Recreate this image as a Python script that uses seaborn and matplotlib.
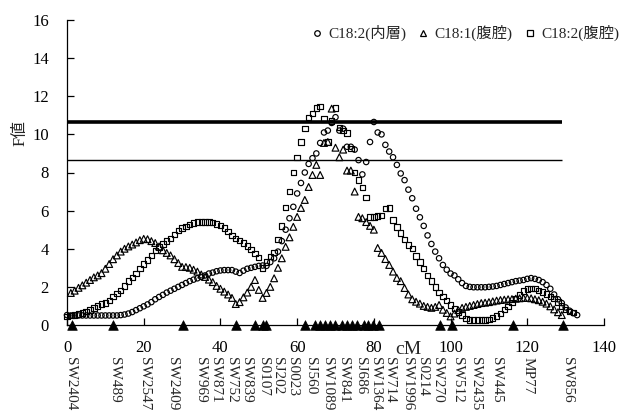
import numpy as np
import pandas as pd
import matplotlib
matplotlib.use("Agg")
import matplotlib.pyplot as plt
import matplotlib.transforms as mtransforms
from matplotlib.lines import Line2D
import seaborn as sns

nan = np.nan

# Scan positions along the chromosome (cM)
pos_cm = list(range(0, 134))

# F statistics for each trait at every scan position
f_c182_inner = [
    0.52, 0.5, 0.5, 0.5, 0.5, 0.5, 0.5, 0.5, 0.5, 0.5,
    0.5, 0.5, 0.5, 0.5, 0.52, 0.55, 0.6, 0.68, 0.78, 0.88,
    0.98, 1.08, 1.2, 1.35, 1.47, 1.58, 1.7, 1.8, 1.9, 2.0,
    2.1, 2.2, 2.3, 2.38, 2.45, 2.52, 2.6, 2.7, 2.75, 2.82,
    2.86, 2.88, 2.88, 2.88, 2.8, 2.73, 2.85, 2.95, 3.0, 3.05,
    3.1, 3.12, 3.1, 3.3, 3.5, 3.85, 4.4, 5.0, 5.6, 6.2,
    6.9, 7.45, 8.0, 8.45, 8.75, 9.0, 9.55, 10.1, 10.2, 10.6,
    10.9, 10.2, 10.3, 9.35, 9.35, 9.2, 8.65, 7.9, 8.55, 9.6,
    10.65, 10.1, 10.0, 9.45, 9.1, 8.8, 8.4, 7.95, 7.6, 7.1,
    6.65, 6.1, 5.65, 5.2, 4.7, 4.25, 3.85, 3.5, 3.15, 2.9,
    2.7, 2.6, 2.4, 2.2, 2.05, 2.0, 1.98, 1.98, 1.98, 1.98,
    2.0, 2.02, 2.05, 2.1, 2.15, 2.2, 2.25, 2.3, 2.33, 2.36,
    2.42, 2.46, 2.42, 2.36, 2.25, 2.1, 1.9, 1.6, 1.35, 1.15,
    0.92, 0.75, 0.62, 0.52,
]
f_c181_cavity = [
    nan, 1.68, 1.8, 1.95, 2.08, 2.22, 2.36, 2.5, 2.6, 2.72,
    2.95, 3.2, 3.45, 3.65, 3.85, 4.0, 4.12, 4.22, 4.33, 4.45,
    4.52, 4.5, 4.4, 4.3, 4.12, 3.92, 3.78, 3.65, 3.45, 3.25,
    3.05, 3.04, 3.0, 2.9, 2.8, 2.65, 2.52, 2.38, 2.25, 2.05,
    1.9, 1.75, 1.6, 1.42, 1.1, 1.2, 1.45, 1.7, 2.0, 2.36,
    1.84, 1.42, 1.68, 2.0, 2.45, 3.0, 3.5, 4.1, 4.6, 5.15,
    5.67, 6.14, 6.56, 7.24, 7.87, 8.4, 7.87, 9.55, 9.6, 11.35,
    9.3, 8.8, 9.2, 8.1, 8.1, 7.0, 5.67, 5.6, 5.4, 5.2,
    5.0, 4.04, 3.78, 3.46, 3.15, 2.8, 2.47, 2.3, 1.94, 1.6,
    1.35, 1.22, 1.12, 1.0, 0.95, 0.9, 0.95, 1.05, 0.8, 0.63,
    0.45, 0.6, 0.78, 0.9, 0.95, 1.0, 1.05, 1.1, 1.15, 1.17,
    1.2, 1.24, 1.28, 1.31, 1.33, 1.35, 1.36, 1.38, 1.4, 1.42,
    1.42, 1.4, 1.35, 1.3, 1.22, 1.12, 0.98, 0.82, 0.67, 0.52,
    nan, nan, nan, nan,
]
f_c182_cavity = [
    0.45, 0.5, 0.52, 0.58, 0.63, 0.7, 0.79, 0.9, 1.0, 1.1,
    1.15, 1.3, 1.5, 1.65, 1.8, 2.05, 2.3, 2.5, 2.7, 2.95,
    3.2, 3.4, 3.65, 3.9, 4.1, 4.25, 4.4, 4.55, 4.75, 4.95,
    5.08, 5.18, 5.28, 5.35, 5.4, 5.4, 5.4, 5.4, 5.38, 5.3,
    5.22, 5.08, 4.9, 4.7, 4.55, 4.42, 4.3, 4.15, 3.95, 3.75,
    3.55, 3.0, 3.3, 3.6, 3.8, 4.5, 5.2, 6.15, 7.0, 8.0,
    8.8, 9.6, 10.3, 10.9, 11.1, 11.38, 11.45, 10.8, 9.6, 10.7,
    11.38, 10.35, 10.2, 10.07, 9.25, 8.0, 7.6, 7.2, 6.7, 5.67,
    5.67, 5.72, 5.75, 6.1, 6.14, 5.5, 5.15, 4.83, 4.5, 4.2,
    4.0, 3.62, 3.3, 2.95, 2.6, 2.3, 2.0, 1.7, 1.5, 1.3,
    1.05, 0.85, 0.68, 0.52, 0.33, 0.27, 0.26, 0.26, 0.26, 0.26,
    0.3, 0.37, 0.47, 0.6, 0.8, 0.98, 1.18, 1.38, 1.57, 1.78,
    1.88, 1.9, 1.9, 1.82, 1.73, 1.63, 1.5, 1.38, 1.2, 0.99,
    0.8, 0.72, 0.65, nan,
]
series_names = ["C18:2(内層)", "C18:1(腹腔)", "C18:2(腹腔)"]

# Significance thresholds (genome-wide 5% and chromosome-wide levels)
thresholds = [10.65, 8.65]
threshold_span_cm = [0, 129]

# Genetic map: marker positions and their names
marker_cm = [1.3, 12.0, 30.2, 44.1, 49.0, 51.1, 52.0, 62.1, 64.6, 65.9,
             67.2, 68.5, 69.8, 71.6, 72.9, 74.2, 75.6, 77.3, 78.6, 79.9,
             81.3, 97.3, 100.4, 116.3, 129.3]
marker_names = ["SW2404", "SW489", "SW2547", "SW2409", "SW969", "SW871",
                "SW752", "SW839", "S0107", "SJ202", "S0023", "SJ560",
                "SW1089", "SW841", "SJ686", "SW1364", "SW714", "SW1996",
                "S0214", "SW270", "SW512", "SW2435", "SW445", "MP77", "SW856"]
marker_label_cm = [0.8, 12.5, 20.3, 27.4, 34.7, 38.6, 43.0, 46.9, 51.1, 55.0,
                   58.9, 63.4, 67.8, 72.0, 76.4, 80.3, 84.2, 88.7, 92.6, 96.7,
                   101.7, 106.4, 112.1, 120.2, 130.4]

x_ticks = [0, 20, 40, 60, 80, 100, 120, 140]
y_ticks = [0, 2, 4, 6, 8, 10, 12, 14, 16]

sns.set_style("ticks")
plt.rcParams["font.family"] = ["Liberation Serif", "Noto Sans CJK JP"]

W, H = 631, 417
fig = plt.figure(figsize=(W / 100, H / 100), dpi=100)
ax = fig.add_axes([67 / W, 1 - 325 / H, (604 - 67) / W, (325 - 20) / H])

df = pd.DataFrame({
    "cM": pos_cm * 3,
    "F": f_c182_inner + f_c181_cavity + f_c182_cavity,
    "trait": [series_names[0]] * len(pos_cm) + [series_names[1]] * len(pos_cm)
             + [series_names[2]] * len(pos_cm),
}).dropna()

styles = {series_names[0]: ("o", 15), series_names[1]: ("^", 24),
          series_names[2]: ("s", 15)}
for name, (mk, size) in styles.items():
    before = len(ax.collections)
    sns.scatterplot(data=df[df["trait"] == name], x="cM", y="F", marker=mk,
                    s=size, facecolor="none", edgecolor="black",
                    linewidth=0.85, ax=ax, legend=False, clip_on=False)
    for coll in ax.collections[before:]:
        coll.set_facecolor("none")
        coll.set_edgecolor("black")
        coll.set_linewidth(0.85)
        coll.set_clip_on(False)

# Marker positions on the axis
mk_df = pd.DataFrame({"cM": marker_cm, "F": [0.0] * len(marker_cm)})
before = len(ax.collections)
sns.scatterplot(data=mk_df, x="cM", y="F", marker="^", s=48, color="black",
                edgecolor="black", linewidth=0.5, ax=ax, legend=False,
                clip_on=False, zorder=5)
for coll in ax.collections[before:]:
    coll.set_clip_on(False)

# Threshold lines
ax.hlines(thresholds[0], threshold_span_cm[0], threshold_span_cm[1],
          color="black", lw=2.6, zorder=1)
ax.hlines(thresholds[1], threshold_span_cm[0], threshold_span_cm[1],
          color="black", lw=1.0, zorder=1)

ax.set_xlim(0, 140)
ax.set_ylim(0, 16)
ax.set_xticks(x_ticks)
ax.set_yticks(y_ticks)
ax.set_xlabel("")
ax.set_ylabel("")
for side in ("top", "right"):
    ax.spines[side].set_visible(False)
for side in ("left", "bottom"):
    ax.spines[side].set_linewidth(0.9)
    ax.spines[side].set_color("black")
ax.tick_params(axis="x", direction="in", length=5, width=0.9, pad=11,
               labelsize=12, colors="black")
ax.tick_params(axis="y", direction="in", length=5, width=0.9, pad=13,
               labelsize=12, colors="black")

trans = mtransforms.blended_transform_factory(ax.transData, fig.transFigure)
ax.text(88.9, 1 - 350 / H, "cM", transform=trans, ha="center", va="center",
        fontsize=14, clip_on=False)
for name, xc in zip(marker_names, marker_label_cm):
    ax.text(xc, 1 - 357 / H, name, transform=trans, rotation=270,
            ha="center", va="top", fontsize=11, clip_on=False)

fig.text(21 / W, 1 - 133 / H, "F値", rotation=90, ha="center", va="center",
         fontsize=12)

handles = [
    Line2D([], [], ls="none", marker="o", ms=4, mfc="none", mec="black", mew=0.9),
    Line2D([], [], ls="none", marker="^", ms=4.5, mfc="none", mec="black", mew=0.9),
    Line2D([], [], ls="none", marker="s", ms=4, mfc="none", mec="black", mew=0.9),
]
fig.legend(handles, series_names, loc="center right",
           bbox_to_anchor=(619 / W, 1 - 33 / H), ncol=3, frameon=False,
           handlelength=0.8, handletextpad=0.35, columnspacing=0.7,
           fontsize=11, borderaxespad=0, borderpad=0)

fig.savefig("out.png", dpi=100)
